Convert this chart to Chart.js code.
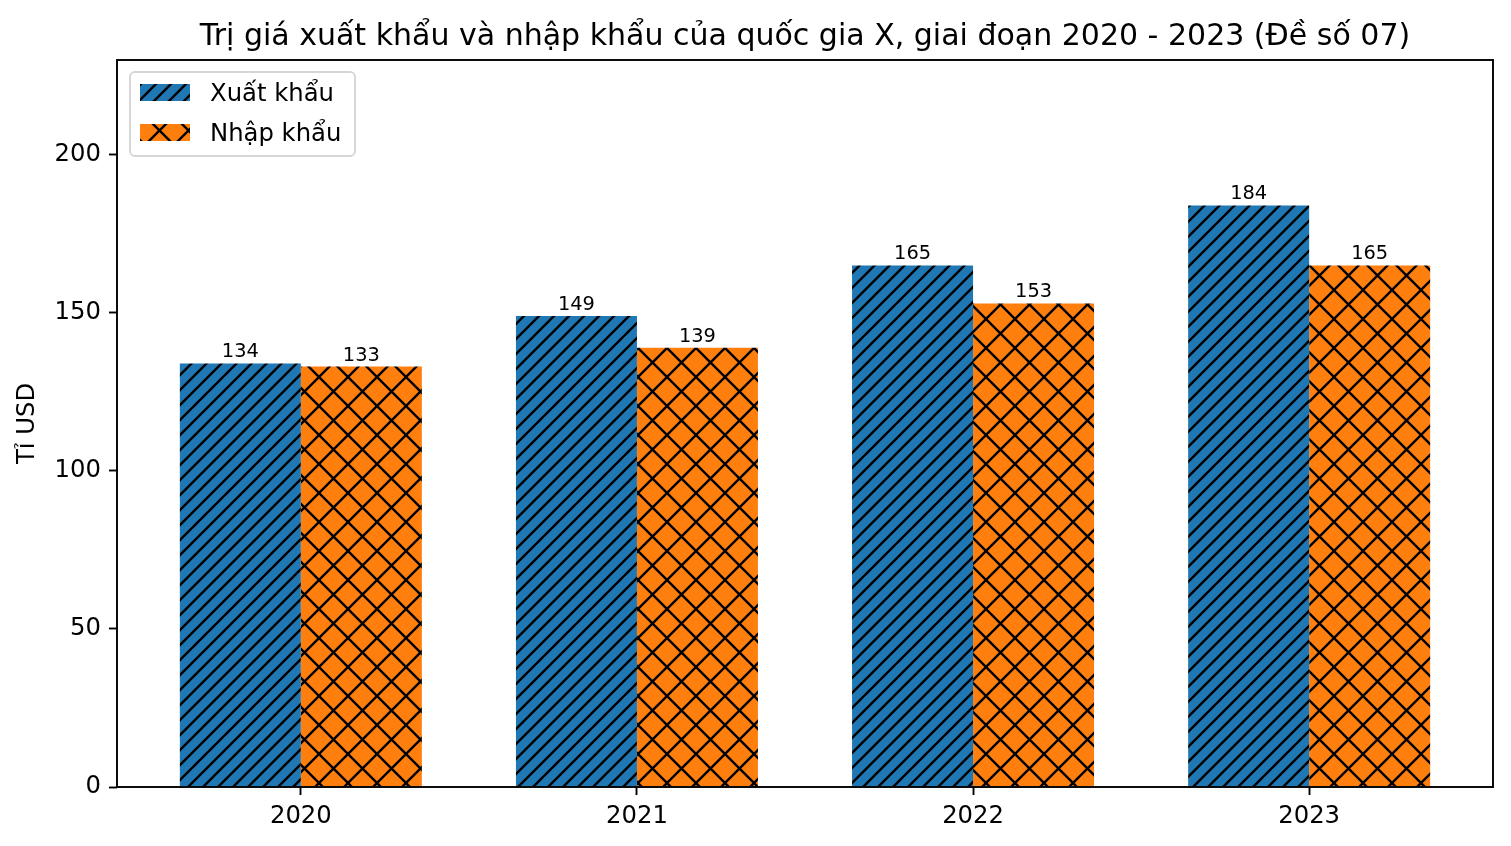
<!DOCTYPE html>
<html>
<head>
<meta charset="utf-8">
<script src="https://cdn.jsdelivr.net/npm/chart.js@4.4.1/dist/chart.umd.min.js"></script>
<style>
  html, body { margin: 0; padding: 0; background: #fff; }
  #wrap { width: 1511px; height: 846px; }
</style>
</head>
<body>
<div id="wrap"><canvas id="barChart" width="1511" height="846"></canvas></div>
<script>
// data
const years = ["2020", "2021", "2022", "2023"];
const exportValues = [134, 149, 165, 184];
const importValues = [133, 139, 153, 165];
const yTicks = [0, 50, 100, 150, 200];

const FONT = "'DejaVu Sans', sans-serif";

// matplotlib-like hatch tiles: lines x+y = k*step (and x-y = k*step for cross)
function makeHatch(bg, size, step, cross) {
  const c = document.createElement("canvas");
  c.width = size; c.height = size;
  const g = c.getContext("2d");
  g.fillStyle = bg;
  g.fillRect(0, 0, size, size);
  g.strokeStyle = "#000";
  g.lineWidth = 2.4;
  g.beginPath();
  for (let d = 0; d <= 2 * size + 0.01; d += step) {
    g.moveTo(d + 3, -3);
    g.lineTo(-3, d + 3);
  }
  if (cross) {
    for (let d = -size; d <= size + 0.01; d += step) {
      g.moveTo(d - 3, -3);
      g.lineTo(d + size + 3, size + 3);
    }
  }
  g.stroke();
  return g.createPattern(c, "repeat");
}

const ctx = document.getElementById("barChart").getContext("2d");
const blueHatch = makeHatch("#1f77b4", 30, 15, false);
const orangeHatch = makeHatch("#ff7f0e", 29, 29, true);

const series = [
  { label: "Xuất khẩu", values: exportValues, fill: blueHatch },
  { label: "Nhập khẩu", values: importValues, fill: orangeHatch }
];

const barLabels = {
  id: "barLabels",
  afterDatasetsDraw(chart) {
    const c = chart.ctx;
    c.save();
    c.font = "19.4px " + FONT;
    c.fillStyle = "#000";
    c.textAlign = "center";
    c.textBaseline = "alphabetic";
    chart.data.datasets.forEach((ds, i) => {
      chart.getDatasetMeta(i).data.forEach((bar, j) => {
        c.fillText(String(ds.data[j].y), bar.x, bar.y - 6);
      });
    });
    c.restore();
  }
};

const frameAndLegend = {
  id: "frameAndLegend",
  afterDraw(chart) {
    const c = chart.ctx;
    const a = chart.chartArea;
    c.save();
    c.strokeStyle = "#000";
    c.lineWidth = 1.9;
    c.strokeRect(a.left, a.top, a.right - a.left, a.bottom - a.top);

    // legend box, upper left
    const x0 = a.left + 13, y0 = a.top + 12;
    c.beginPath();
    c.roundRect(x0, y0, 225, 84, 5);
    c.fillStyle = "rgba(255,255,255,0.8)";
    c.fill();
    c.strokeStyle = "#d6d6d6";
    c.lineWidth = 1.9;
    c.stroke();
    c.font = "24.3px " + FONT;
    c.textBaseline = "middle";
    c.textAlign = "left";
    chart.data.datasets.forEach((ds, i) => {
      const py = y0 + 12 + i * 40;
      c.fillStyle = ds.backgroundColor;
      c.fillRect(x0 + 10, py, 50, 17);
      c.fillStyle = "#000";
      c.fillText(ds.label, x0 + 80, py + 11);
    });
    c.restore();
  }
};

const chart = new Chart(ctx, {
  type: "bar",
  data: {
    datasets: series.map(s => ({
      label: s.label,
      data: s.values.map((v, i) => ({ x: i, y: v })),
      backgroundColor: s.fill,
      borderWidth: 0,
      categoryPercentage: 0.72,
      barPercentage: 1.0
    }))
  },
  options: {
    responsive: false,
    animation: false,
    devicePixelRatio: 1,
    layout: { padding: { left: 0, right: 18, top: 0, bottom: 0 } },
    plugins: {
      legend: { display: false },
      tooltip: { enabled: false },
      title: {
        display: true,
        fullSize: false,
        text: "Trị giá xuất khẩu và nhập khẩu của quốc gia X, giai đoạn 2020 - 2023 (Đề số 07)",
        color: "#000",
        font: { family: FONT, size: 30, weight: "normal" },
        padding: { top: 19, bottom: 5 }
      }
    },
    scales: {
      x: {
        type: "linear",
        offset: false,
        min: -0.547,
        max: years.length - 1 + 0.547,
        afterBuildTicks: s => { s.ticks = years.map((_, i) => ({ value: i })); },
        afterFit: s => { s.height = 59; },
        ticks: {
          color: "#000",
          font: { family: FONT, size: 24.3 },
          padding: 7,
          maxRotation: 0,
          callback: v => years[v]
        },
        grid: {
          offset: false,
          drawOnChartArea: false,
          drawTicks: true,
          tickLength: 8,
          tickColor: "#000",
          tickWidth: 1.9
        },
        border: { display: false }
      },
      y: {
        min: 0,
        max: 230,
        afterBuildTicks: s => { s.ticks = yTicks.map(v => ({ value: v })); },
        afterFit: s => { s.width = 117; },
        ticks: {
          color: "#000",
          font: { family: FONT, size: 24.3 },
          padding: 8
        },
        grid: {
          drawOnChartArea: false,
          drawTicks: true,
          tickLength: 8,
          tickColor: "#000",
          tickWidth: 1.9
        },
        border: { display: false },
        title: {
          display: true,
          text: "Tỉ USD",
          color: "#000",
          font: { family: FONT, size: 24.3 },
          padding: { top: 13, bottom: 0 }
        }
      }
    }
  },
  plugins: [barLabels, frameAndLegend]
});
</script>
</body>
</html>
